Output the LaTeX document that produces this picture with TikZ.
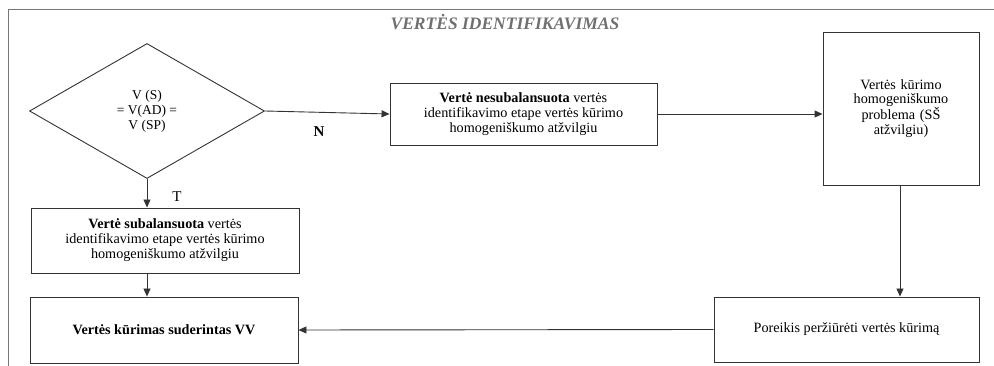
\documentclass[tikz,border=0pt]{standalone}
\usepackage{fontspec}
\setmainfont{Liberation Serif}
\usetikzlibrary{arrows.meta,shapes.geometric}

\definecolor{linegray}{HTML}{333333}
\definecolor{framegray}{HTML}{777777}
\definecolor{titlegray}{HTML}{707070}

\tikzset{
  flowbox/.style={draw=linegray, line width=0.9pt, rectangle, inner sep=0pt,
    align=center, font=\fontsize{14.2}{15}\selectfont},
  decision/.style={draw=linegray, line width=0.9pt, diamond, inner sep=0pt,
    align=center, font=\fontsize{13.5}{15}\selectfont},
  flowarrow/.style={draw=linegray, line width=0.9pt,
    -{Triangle[length=8pt,width=7pt]}},
  branchlabel/.style={font=\fontsize{15}{17}\selectfont},
}

\begin{document}
\begin{tikzpicture}[x=1pt,y=-1pt]
  \useasboundingbox (0,0) rectangle (994,366);

  % open frame and heading
  \draw[framegray, line width=1pt] (994,10) -- (8,10) -- (8,366);
  \node (title) at (505,22) {\color{titlegray}\fontsize{17.5}{19}\selectfont\bfseries\itshape VERTĖS IDENTIFIKAVIMAS};

  % decision
  \node[decision, minimum width=235pt, minimum height=135pt] (dia) at (147,111)
    {V (S)\\= V(AD) =\\V (SP)};

  % process boxes
  \node[flowbox, minimum width=267pt, minimum height=62pt] (nbox) at (523.5,114)
    {\textbf{Vertė nesubalansuota} vertės\\identifikavimo etape vertės kūrimo\\homogeniškumo atžvilgiu};
  \node[flowbox, minimum width=156pt, minimum height=153pt, text width=120pt] (ss) at (901,108.5)
    {\fontsize{14.2}{14}\selectfont Vertės kūrimo\\homogeniškumo\\problema (SŠ\\atžvilgiu)};
  \node[flowbox, minimum width=268pt, minimum height=65pt] (sub) at (165,240.5)
    {\textbf{Vertė subalansuota} vertės\\identifikavimo etape vertės kūrimo\\homogeniškumo atžvilgiu};
  \node[flowbox, minimum width=268pt, minimum height=66pt] (vv) at (164,330)
    {\textbf{Vertės kūrimas suderintas VV}};
  \node[flowbox, minimum width=265pt, minimum height=65pt] (por) at (846.5,329.5)
    {Poreikis peržiūrėti vertės kūrimą};

  % connectors
  \draw[flowarrow] (dia.east) -- (nbox.west);
  \draw[flowarrow] (nbox.east) -- (nbox.east -| ss.west);
  \draw[flowarrow] (ss.south -| 900,0) -- (por.north -| 900,0);
  \draw[flowarrow] (por.west) -- (vv.east);
  \draw[flowarrow] (dia.south) -- (dia.south |- sub.north);
  \draw[flowarrow] (sub.south -| dia.south) -- (vv.north -| dia.south);

  % branch labels
  \node[branchlabel] (lblN) at (319,132) {\textbf{N}};
  \node[branchlabel] (lblT) at (177,197) {T};
\end{tikzpicture}
\end{document}
